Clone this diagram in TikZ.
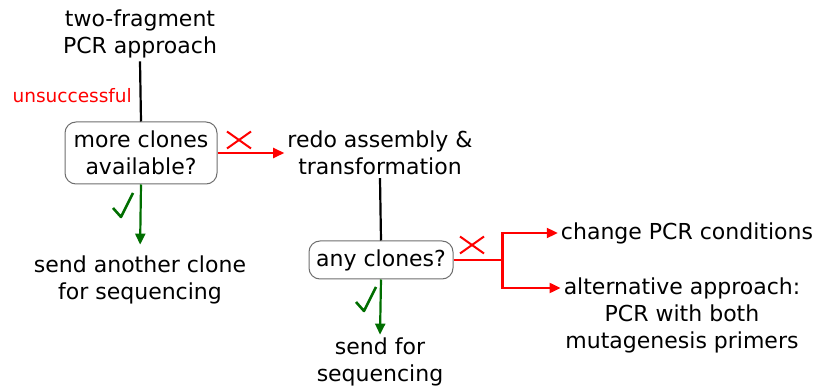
\documentclass[tikz,border=0pt]{standalone}
\usepackage{fontspec}
\setmainfont{DejaVu Sans}
\usetikzlibrary{arrows.meta,positioning}
\definecolor{NoRed}{HTML}{FF0000}
\definecolor{YesGreen}{HTML}{006E00}
\definecolor{BoxGrey}{HTML}{6E6E6E}
\tikzset{
  steptext/.style={align=center,inner sep=3pt,font=\fontsize{22}{27}\selectfont},
  askbox/.style={steptext,draw=BoxGrey,rounded corners=11pt,line width=1pt,fill=white},
  plainlink/.style={line width=2.2pt,draw=black},
  noarrow/.style={-{Triangle[length=11pt,width=10pt]},line width=2.2pt,draw=NoRed},
  yesarrow/.style={-{Triangle[length=11pt,width=10pt]},line width=2.2pt,draw=YesGreen},
  nocross/.pic={\draw[NoRed,line width=2pt] (-12,-8.5) -- (12,8.5) (-12,8.5) -- (12,-8.5);},
  yescheck/.pic={\draw[YesGreen,line width=2.6pt,line join=round] (-9,3) -- (-1,12) -- (11,-12);}
}

\begin{document}
\begin{tikzpicture}[x=1pt,y=-1pt]
\useasboundingbox (0,0) rectangle (815,387);
% left branch
\node[steptext] (start) at (140,34) {two-fragment\\PCR approach};
\node[askbox,minimum width=152pt,minimum height=62pt] (more) at (141,153) {more clones\\available?};
\node[steptext,text=NoRed,font=\fontsize{18.5}{22}\selectfont,anchor=east] (fail) at (135,96) {unsuccessful};
\node[steptext] (another) at (140,280) {send another clone\\for sequencing};
% middle branch
\node[steptext] (redo) at (380,153) {redo assembly \&\\transformation};
\node[askbox,minimum width=144pt,minimum height=38pt] (anyc) at (381,260) {any clones?};
\node[steptext] (sendfor) at (380,362) {send for\\sequencing};
% right branch
\node[steptext] (change) at (687,233) {change PCR conditions};
\node[steptext] (alt) at (682,288) {alternative approach:};
\node[steptext,below=0pt of alt] (altmore) {PCR with both\\mutagenesis primers};
% marks
\pic at (239,140) {nocross};
\pic at (472,245) {nocross};
\pic at (122,205) {yescheck};
\pic at (365,299) {yescheck};
% links
\draw[plainlink] (start.south) -- (more.north);
\draw[plainlink] (redo.south) -- (anyc.north);
\draw[noarrow] (more.east) -- (redo.west);
\draw[yesarrow,shorten >=8pt] (more.south) -- (another.north);
\draw[yesarrow] (anyc.south) -- (sendfor.north);
\draw[NoRed,line width=2.2pt] (anyc.east) -- ++(49,0) coordinate (fork);
\draw[noarrow] (fork) |- (change.west);
\draw[noarrow] (fork) |- (alt.west);
\end{tikzpicture}
\end{document}
